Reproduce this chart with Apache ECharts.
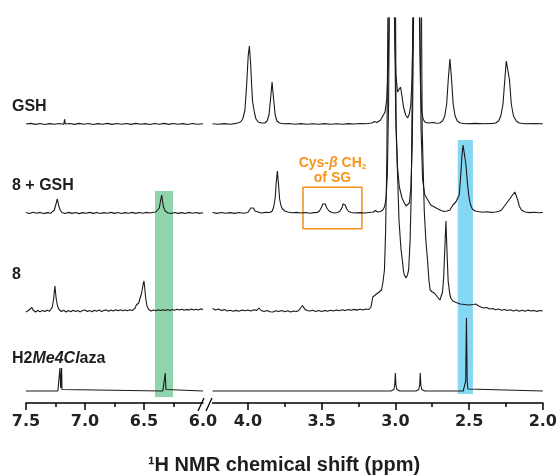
<!DOCTYPE html>
<html><head><meta charset="utf-8">
<script src="https://cdn.jsdelivr.net/npm/echarts@6/dist/echarts.min.js"></script>
<style>html,body{margin:0;padding:0;background:#fff}#c{width:560px;height:475px}</style>
</head><body><div id="c"></div>
<script>
// ---- data (ppm, intensity) ----
const spectrumNames = ['GSH', '8 + GSH', '8', 'H2Me4Claza'];
const offsets = [279, 190, 92, 12];

const gshLeft = [[7.5,0],[7.46,0.6],[7.42,-0.4],[7.38,0.5],[7.34,-0.5],[7.3,0.4],[7.26,-0.3],[7.22,0.5],[7.18,-0.2],[7.175,0],[7.172,5],[7.168,0],[7.13,0.5],[7.09,-0.4],[7.05,0.6],[7.01,-0.3],[6.97,0.5],[6.93,-0.5],[6.89,0.4],[6.85,-0.3],[6.81,0.6],[6.77,-0.4],[6.73,0.5],[6.69,-0.3],[6.65,0.5],[6.61,-0.4],[6.57,0.6],[6.53,-0.3],[6.49,0.4],[6.45,-0.5],[6.41,0.5],[6.37,-0.3],[6.33,0.6],[6.29,-0.4],[6.25,0.5],[6.21,-0.3],[6.17,0.4],[6.13,-0.5],[6.09,0.5],[6.05,-0.3],[6.0,0.3]];
const gshRight = [[4.24,0.3],[4.2,-0.3],[4.16,0.4],[4.12,-0.2],[4.09,0.4],[4.07,1],[4.05,2],[4.035,5],[4.02,14],[4.008,40],[3.998,68],[3.99,78],[3.982,62],[3.975,40],[3.968,22],[3.962,17],[3.955,11],[3.945,5],[3.93,2],[3.91,1],[3.885,1],[3.87,3],[3.857,9],[3.847,24],[3.836,42],[3.825,24],[3.815,9],[3.803,3],[3.785,1],[3.76,0.2],[3.72,0.5],[3.68,-0.2],[3.64,0.4],[3.6,-0.3],[3.56,0.3],[3.52,-0.2],[3.48,0.4],[3.44,-0.2],[3.4,0.3],[3.36,-0.3],[3.32,0.4],[3.28,0],[3.24,0.5],[3.2,0.3],[3.16,1],[3.142,2.5],[3.125,1.5],[3.1,4],[3.085,8],[3.07,12],[3.058,25],[3.048,60],[3.04,140],[3.024,700],[3.01,140],[3.003,80],[2.997,50],[2.985,32],[2.978,31],[2.965,37],[2.955,28],[2.945,17],[2.93,9],[2.917,6],[2.905,10],[2.895,20],[2.887,45],[2.878,120],[2.852,700],[2.838,120],[2.83,40],[2.822,14],[2.812,5],[2.8,2],[2.78,1],[2.74,1.5],[2.72,0.8],[2.70,1],[2.68,3],[2.665,8],[2.652,20],[2.641,45],[2.63,65],[2.619,45],[2.608,20],[2.595,8],[2.58,3],[2.56,1],[2.52,0.3],[2.46,0.6],[2.4,0.2],[2.34,0.6],[2.32,1],[2.3,3],[2.285,8],[2.27,20],[2.258,44],[2.248,63],[2.236,63],[2.226,44],[2.214,20],[2.199,8],[2.18,3],[2.16,1],[2.12,0.3],[2.06,0.5],[2.0,0.2]];

const plusLeft = [[7.5,0.5],[7.47,-0.5],[7.44,0.8],[7.41,-0.3],[7.38,0.6],[7.35,-0.6],[7.32,0.4],[7.29,-0.2],[7.275,1],[7.26,3],[7.248,8],[7.235,14],[7.222,7],[7.21,3],[7.195,0.5],[7.17,-0.5],[7.14,0.6],[7.11,-0.4],[7.08,0.5],[7.05,-0.6],[7.02,0.4],[6.99,-0.3],[6.96,0.6],[6.93,-0.4],[6.9,0.5],[6.87,-0.5],[6.84,0.4],[6.81,-0.3],[6.78,0.6],[6.75,-0.4],[6.72,0.5],[6.69,-0.5],[6.66,0.4],[6.63,-0.2],[6.6,0.6],[6.57,-0.4],[6.54,0.5],[6.51,-0.3],[6.48,0.6],[6.45,0],[6.42,0.8],[6.4,1],[6.385,2],[6.37,5],[6.36,12],[6.35,18],[6.343,12],[6.335,6],[6.32,2],[6.3,0.3],[6.27,-0.5],[6.24,0.5],[6.21,-0.4],[6.18,0.4],[6.15,-0.5],[6.12,0.6],[6.09,-0.3],[6.06,0.5],[6.03,-0.4],[6.0,0.3]];
const plusRight = [[4.24,0.5],[4.21,-0.4],[4.18,0.5],[4.15,-0.3],[4.12,0.4],[4.09,-0.4],[4.06,0.5],[4.03,-0.2],[4.0,0.5],[3.99,2],[3.98,5],[3.971,7],[3.962,5],[3.952,2],[3.94,0.5],[3.91,0],[3.88,0.6],[3.85,0.5],[3.835,2],[3.825,6],[3.815,15],[3.808,30],[3.8,42],[3.792,28],[3.785,14],[3.775,7],[3.765,4],[3.75,2],[3.73,1],[3.7,0.3],[3.67,0.6],[3.64,0],[3.61,0.5],[3.58,-0.2],[3.55,0.4],[3.53,0.5],[3.515,2],[3.5,6],[3.492,9],[3.485,10],[3.475,9],[3.465,5],[3.45,2],[3.43,0.5],[3.41,0],[3.39,0.5],[3.375,2],[3.36,6],[3.355,9],[3.349,10],[3.34,8],[3.33,4],[3.315,1.5],[3.3,0.5],[3.27,0],[3.24,0.4],[3.21,0],[3.18,0.5],[3.15,1],[3.135,2.5],[3.12,1],[3.1,1.5],[3.085,3],[3.074,6],[3.063,14],[3.054,40],[3.046,110],[3.038,250],[3.024,900],[3.008,250],[2.998,100],[2.985,45],[2.973,26],[2.955,15],[2.939,10],[2.928,7],[2.917,6],[2.905,10],[2.895,25],[2.885,70],[2.875,220],[2.848,900],[2.835,220],[2.826,85],[2.815,33],[2.8,18],[2.78,13],[2.76,8],[2.723,5],[2.69,2.5],[2.669,1.5],[2.65,2],[2.63,3],[2.61,8],[2.59,11],[2.579,12],[2.567,18],[2.556,39],[2.548,58],[2.541,68],[2.535,62],[2.528,55],[2.522,49],[2.51,28],[2.5,15],[2.49,8],[2.478,4],[2.46,2],[2.44,1.5],[2.41,0.8],[2.38,1.2],[2.35,0.6],[2.32,1],[2.3,1.5],[2.28,3],[2.26,7],[2.24,11],[2.225,14],[2.205,18],[2.19,21],[2.18,19],[2.17,13],[2.16,7],[2.145,3],[2.12,1],[2.09,0.4],[2.06,0.7],[2.03,0.2],[2.0,0.5]];

const eightLeft = [[7.5,-1],[7.48,0.5],[7.465,0],[7.45,3.5],[7.44,1],[7.42,-1],[7.4,0.5],[7.38,-0.8],[7.36,0.6],[7.34,-0.5],[7.32,0.8],[7.3,-0.2],[7.29,1],[7.277,4],[7.266,12],[7.255,25],[7.244,12],[7.233,5],[7.22,1.5],[7.2,-0.5],[7.18,0.8],[7.16,-1],[7.14,0.5],[7.12,-0.8],[7.1,0.7],[7.08,-0.6],[7.06,0.4],[7.04,-0.9],[7.02,0.5],[7.0,1],[6.98,-0.5],[6.96,0.6],[6.94,-0.8],[6.92,0.8],[6.9,-0.2],[6.88,0.9],[6.86,-0.4],[6.84,0.6],[6.82,1],[6.8,-0.3],[6.78,0.9],[6.76,0],[6.74,1.2],[6.72,0.2],[6.7,1.2],[6.68,0.3],[6.66,1],[6.64,0.2],[6.62,1.3],[6.6,0.4],[6.585,1.5],[6.575,3],[6.565,6],[6.557,8],[6.545,8],[6.535,12],[6.52,18],[6.507,27],[6.5,30],[6.493,22],[6.485,12],[6.475,5],[6.46,1.5],[6.44,0],[6.42,1],[6.4,0.2],[6.38,1.2],[6.36,0.4],[6.34,1.3],[6.32,0.5],[6.3,1.4],[6.28,0.6],[6.26,1.5],[6.24,0.8],[6.22,1.7],[6.2,0.9],[6.18,1.8],[6.16,0.7],[6.14,1.6],[6.12,0.9],[6.1,2],[6.08,1],[6.06,1.8],[6.04,1],[6.02,2.1],[6.0,1.5]];
const eightRight = [[4.24,2.5],[4.22,1],[4.2,2],[4.18,0.5],[4.16,1.4],[4.14,0],[4.12,0.8],[4.1,-0.3],[4.08,0.6],[4.06,-0.2],[4.04,0.9],[4.02,0.2],[4.0,1],[3.98,0],[3.96,1.2],[3.94,0.6],[3.925,3],[3.91,0.5],[3.89,-0.5],[3.87,0.6],[3.85,-0.8],[3.83,-1],[3.81,0.3],[3.79,-0.5],[3.77,0.5],[3.75,-0.8],[3.73,0.2],[3.71,-1],[3.69,0],[3.67,-0.5],[3.655,0.5],[3.645,2.5],[3.63,5.5],[3.615,2],[3.6,0.5],[3.58,0],[3.56,0.8],[3.54,-0.5],[3.52,0.5],[3.5,-0.6],[3.48,0.6],[3.46,-0.2],[3.44,0.8],[3.42,0],[3.4,1],[3.38,0.2],[3.36,1.2],[3.34,0.4],[3.32,1.4],[3.3,0.8],[3.28,1.6],[3.26,0.9],[3.24,1.8],[3.22,1],[3.2,2],[3.18,1.5],[3.165,4],[3.153,14],[3.14,15],[3.128,17],[3.11,19],[3.094,21],[3.085,28],[3.074,41],[3.066,80],[3.058,150],[3.048,350],[3.024,1200],[3.0,350],[2.995,181],[2.975,90],[2.962,62],[2.953,51],[2.945,40],[2.939,36],[2.928,33],[2.918,36],[2.91,41],[2.9,70],[2.892,120],[2.878,350],[2.85,1200],[2.825,350],[2.818,181],[2.804,100],[2.793,70],[2.782,51],[2.772,30],[2.764,21],[2.75,19],[2.736,18],[2.725,16],[2.714,14],[2.698,11],[2.68,19],[2.672,35],[2.664,65],[2.657,90],[2.65,60],[2.642,30],[2.632,18],[2.624,13],[2.61,10],[2.595,9],[2.579,8],[2.56,7],[2.53,6.5],[2.5,6],[2.47,6.5],[2.455,7],[2.444,8],[2.435,5],[2.42,4],[2.4,3],[2.38,3.5],[2.36,2],[2.34,2.5],[2.32,1.2],[2.3,2],[2.28,0.8],[2.26,1.5],[2.24,0.5],[2.22,1.2],[2.2,0],[2.18,1],[2.16,-0.3],[2.14,0.8],[2.12,-0.2],[2.1,0.9],[2.08,0],[2.06,0.6],[2.04,-0.4],[2.02,0.5],[2.0,0]];

const clazaLeft = [[7.5,0],[7.23,0],[7.215,1.5],[7.212,23],[7.206,3],[7.198,23],[7.195,1.5],[7.18,0],[6.34,0],[6.326,1.5],[6.32,18],[6.314,1.5],[6.3,0],[6.0,0]];
const clazaRight = [[4.24,0],[3.03,0],[3.01,1.5],[3.004,6],[3.0,18],[2.996,6],[2.99,1.5],[2.97,0],[2.86,0],[2.841,1.5],[2.835,6],[2.831,18],[2.827,6],[2.821,1.5],[2.8,0],[2.54,0],[2.528,2],[2.523,10],[2.518,73],[2.513,10],[2.508,2],[2.495,0],[2.0,0]];

const leftTickLabels = [7.5, 7.0, 6.5, 6.0];
const leftMajorTicks = [7.5, 7.0, 6.5];
const leftMinorTicks = [7.25, 6.75, 6.25];
const rightTickLabels = [4.0, 3.5, 3.0, 2.5, 2.0];
const rightMinorTicks = [3.75, 3.25, 2.75, 2.25];
const greenBand = [6.407, 6.254];
const blueBand = [2.577, 2.474];
const cysBox = [3.626, 3.227];
const axisTitle = '\u00B9H NMR chemical shift (ppm)';

// ---- chart ----
const chart = echarts.init(document.getElementById('c'), null, {renderer: 'canvas'});
const spectra = [[gshLeft, gshRight], [plusLeft, plusRight], [eightLeft, eightRight], [clazaLeft, clazaRight]];
const lineColor = '#1a1a1a';
const series = [];
spectra.forEach((pair, i) => {
  series.push({type: 'line', name: spectrumNames[i] + ' L', xAxisIndex: 0, yAxisIndex: 0,
    data: pair[0].map(p => [p[0], p[1] + offsets[i]]), showSymbol: false, symbol: 'none',
    lineStyle: {width: 1.1, color: lineColor}, z: 3, clip: true, animation: false});
  series.push({type: 'line', name: spectrumNames[i] + ' R', xAxisIndex: 2, yAxisIndex: 1,
    data: pair[1].map(p => [p[0], p[1] + offsets[i]]), showSymbol: false, symbol: 'none',
    lineStyle: {width: 1.1, color: lineColor}, z: 3, clip: true, animation: false});
});
series.push({type: 'line', xAxisIndex: 0, yAxisIndex: 0, data: [], z: 1, animation: false,
  markArea: {silent: true, itemStyle: {color: '#8fd4ad'}, data: [[{coord: [greenBand[0], 212]}, {coord: [greenBand[1], 6]}]]}});
series.push({type: 'line', xAxisIndex: 2, yAxisIndex: 1, data: [], z: 1, animation: false,
  markArea: {silent: true, itemStyle: {color: '#86d7f4'}, data: [[{coord: [blueBand[0], 263]}, {coord: [blueBand[1], 9]}]]}});
series.push({type: 'line', xAxisIndex: 2, yAxisIndex: 1, data: [], z: 4, animation: false,
  markArea: {silent: true,
    itemStyle: {color: 'rgba(0,0,0,0)', borderColor: '#f7941d', borderWidth: 1.6},
    label: {show: true, position: 'top', distance: 1, align: 'center',
      formatter: '{a|Cys-}{b|\u03B2}{a| CH}{c|2}\n{a|of SG}',
      rich: {
        a: {fontFamily: 'Liberation Sans', fontWeight: 'bold', fontSize: 14, color: '#f7941d', lineHeight: 15},
        b: {fontFamily: 'Liberation Sans', fontWeight: 'bold', fontStyle: 'italic', fontSize: 14, color: '#f7941d', lineHeight: 15},
        c: {fontFamily: 'Liberation Sans', fontWeight: 'bold', fontSize: 8, color: '#f7941d', lineHeight: 15, verticalAlign: 'bottom', padding: [6, 0, 0, 0]}
      }},
    data: [[{coord: [cysBox[0], 215.7]}, {coord: [cysBox[1], 174.3]}]]}});

const tickFont = {fontFamily: 'DejaVu Sans', fontWeight: 'bold', fontSize: 16, color: '#222'};
function majorAxis(grid, min, max, labels, ticks) {
  return {gridIndex: grid, type: 'value', min: min, max: max, inverse: true, position: 'bottom',
    axisLine: {show: true, onZero: false, lineStyle: {color: '#000', width: 1.5}},
    axisTick: {show: true, length: 7, customValues: ticks, lineStyle: {color: '#000', width: 1.5}},
    axisLabel: Object.assign({show: true, margin: 11, customValues: labels, formatter: v => Number(v).toFixed(1)}, tickFont),
    splitLine: {show: false}};
}
function minorAxis(grid, min, max, ticks) {
  return {gridIndex: grid, type: 'value', min: min, max: max, inverse: true, position: 'bottom',
    axisLine: {show: false, onZero: false},
    axisTick: {show: true, length: 4, customValues: ticks, lineStyle: {color: '#000', width: 1.5}},
    axisLabel: {show: false}, splitLine: {show: false}};
}

const labelRich = {
  n: {fontFamily: 'Liberation Sans', fontWeight: 'bold', fontSize: 16, fill: '#1e1e1e', color: '#1e1e1e'},
  i: {fontFamily: 'Liberation Sans', fontWeight: 'bold', fontStyle: 'italic', fontSize: 16, fill: '#1e1e1e', color: '#1e1e1e'}
};
const labelTexts = ['{n|GSH}', '{n|8 + GSH}', '{n|8}', '{n|H2}{i|Me4Cl}{n|aza}'];
const labelY = [108, 187, 276, 360];

const graphic = labelTexts.map((t, i) => ({type: 'text', left: 12, top: labelY[i] - 9, z: 10,
  style: {text: t, rich: labelRich, font: 'bold 16px "Liberation Sans"', fill: '#1e1e1e'}}));
graphic.push({type: 'text', x: 284, y: 465, z: 10,
  style: {text: axisTitle, font: 'bold 20px "Liberation Sans"', fill: '#1e1e1e', textAlign: 'center', textVerticalAlign: 'middle'}});
graphic.push({type: 'line', z: 10, shape: {x1: 198, y1: 411, x2: 204, y2: 398}, style: {stroke: '#000', lineWidth: 1.3}});
graphic.push({type: 'line', z: 10, shape: {x1: 206, y1: 411, x2: 212, y2: 398}, style: {stroke: '#000', lineWidth: 1.3}});

chart.setOption({
  animation: false,
  backgroundColor: '#fff',
  grid: [
    {left: 26, right: 357, top: 18, bottom: 72},
    {left: 212.5, right: 16, top: 18, bottom: 72}
  ],
  xAxis: [
    majorAxis(0, 6.0, 7.5, leftTickLabels, leftMajorTicks),
    minorAxis(0, 6.0, 7.5, leftMinorTicks),
    majorAxis(1, 2.0, 4.24, rightTickLabels, rightTickLabels),
    minorAxis(1, 2.0, 4.24, rightMinorTicks)
  ],
  yAxis: [
    {gridIndex: 0, type: 'value', min: 0, max: 385, show: false},
    {gridIndex: 1, type: 'value', min: 0, max: 385, show: false}
  ],
  series: series,
  graphic: graphic
});
</script></body></html>
